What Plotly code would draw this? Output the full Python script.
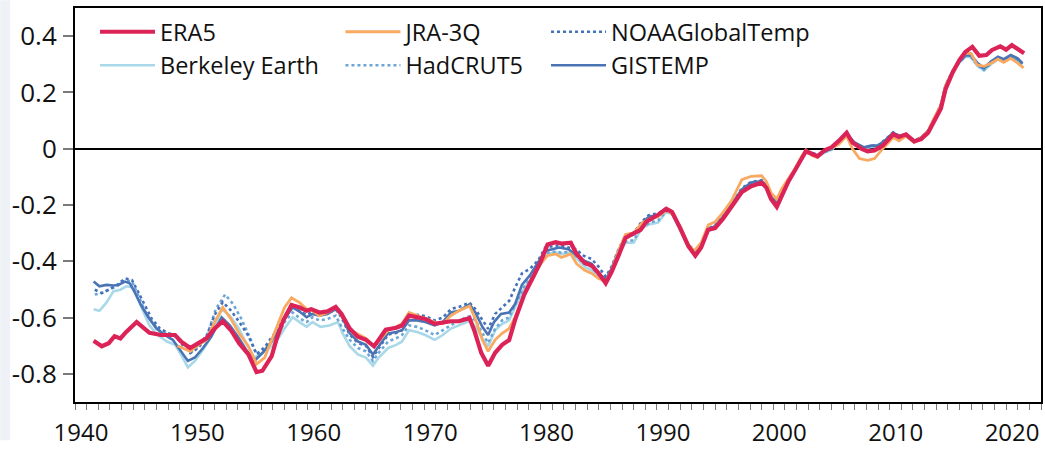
import plotly.graph_objects as go

# ---------------- data (12-month running means, °C anomaly) ----------------
era5_year = [1941.6, 1942.3, 1942.9, 1943.4, 1943.9, 1944.4, 1945.3, 1945.9, 1946.4, 1947.4, 1948.6, 1949.1,
             1949.9, 1950.6, 1951.3, 1952.0, 1952.7, 1953.4, 1954.1, 1954.9, 1955.6, 1956.1, 1956.9, 1957.3,
             1957.9, 1958.6, 1959.3, 1959.9, 1960.3, 1961.0, 1961.7, 1962.4, 1962.9, 1963.6, 1964.3, 1965.0,
             1965.7, 1966.1, 1966.7, 1967.6, 1968.1, 1968.7, 1969.4, 1970.1, 1970.9, 1971.6, 1972.3, 1973.0,
             1973.9, 1974.3, 1974.9, 1975.5, 1976.1, 1976.7, 1977.3, 1977.8, 1978.6, 1979.3, 1980.0, 1980.6,
             1981.3, 1981.8, 1982.6, 1983.1, 1983.8, 1984.4, 1985.0, 1985.6, 1986.1, 1986.7, 1987.3, 1987.8,
             1988.6, 1989.1, 1990.1, 1990.8, 1991.3, 1992.0, 1992.7, 1993.3, 1993.8, 1994.4, 1995.0, 1995.7,
             1996.4, 1997.3, 1998.1, 1999.0, 1999.4, 1999.8, 2000.3, 2000.7, 2001.3, 2001.8, 2002.4, 2002.8,
             2003.3, 2003.8, 2004.4, 2005.0, 2005.6, 2006.3, 2006.8, 2007.6, 2008.1, 2008.7, 2009.4, 2010.3,
             2010.8, 2011.4, 2012.1, 2012.7, 2013.3, 2013.8, 2014.4, 2014.8, 2015.4, 2016.0, 2016.5, 2017.1,
             2017.7, 2018.3, 2018.8, 2019.5, 2020.0, 2020.5, 2021.1, 2021.55]
era5_val = [-0.682, -0.702, -0.691, -0.666, -0.674, -0.651, -0.616, -0.639, -0.654, -0.662, -0.662, -0.685,
            -0.708, -0.691, -0.674, -0.639, -0.613, -0.645, -0.691, -0.731, -0.794, -0.789, -0.737, -0.679,
            -0.610, -0.555, -0.564, -0.576, -0.570, -0.582, -0.578, -0.562, -0.587, -0.639, -0.668, -0.679,
            -0.702, -0.679, -0.643, -0.636, -0.628, -0.593, -0.599, -0.605, -0.622, -0.616, -0.613, -0.613,
            -0.602, -0.645, -0.725, -0.771, -0.725, -0.697, -0.680, -0.610, -0.518, -0.461, -0.403, -0.340,
            -0.332, -0.337, -0.334, -0.374, -0.406, -0.415, -0.443, -0.478, -0.438, -0.380, -0.317, -0.305,
            -0.288, -0.259, -0.235, -0.213, -0.225, -0.282, -0.346, -0.380, -0.351, -0.288, -0.282, -0.248,
            -0.207, -0.154, -0.133, -0.121, -0.138, -0.179, -0.207, -0.167, -0.116, -0.081, -0.035, -0.009,
            -0.018, -0.027, -0.006, 0.005, 0.027, 0.057, 0.022, -0.001, -0.009, -0.006, 0.011, 0.051,
            0.042, 0.051, 0.026, 0.034, 0.057, 0.097, 0.143, 0.212, 0.270, 0.316, 0.344, 0.362,
            0.330, 0.333, 0.351, 0.364, 0.352, 0.368, 0.352, 0.339]

jra3q_year = [1948.8, 1949.4, 1949.9, 1950.6, 1951.3, 1952.0, 1952.7, 1953.4, 1954.1, 1954.9, 1955.6, 1956.3,
              1956.8, 1957.4, 1958.0, 1958.6, 1959.3, 1959.9, 1960.4, 1961.0, 1961.7, 1962.4, 1963.0, 1963.7,
              1964.4, 1965.0, 1965.7, 1966.3, 1966.9, 1967.6, 1968.1, 1968.7, 1969.4, 1970.1, 1970.9, 1971.6,
              1972.3, 1973.0, 1973.9, 1974.4, 1975.0, 1975.5, 1976.1, 1976.7, 1977.3, 1977.8, 1978.6, 1979.3,
              1980.0, 1980.6, 1981.3, 1981.8, 1982.6, 1983.1, 1983.8, 1984.4, 1985.0, 1985.6, 1986.1, 1986.7,
              1987.3, 1988.0, 1988.7, 1989.4, 1990.1, 1990.8, 1991.3, 1992.0, 1992.7, 1993.2, 1993.8, 1994.4,
              1995.0, 1995.7, 1996.4, 1997.3, 1998.1, 1999.0, 1999.4, 1999.8, 2000.3, 2000.7, 2001.3, 2001.8,
              2002.4, 2002.8, 2003.3, 2003.8, 2004.4, 2005.0, 2005.6, 2006.3, 2006.8, 2007.4, 2008.1, 2008.7,
              2009.4, 2010.3, 2010.8, 2011.4, 2012.1, 2012.7, 2013.3, 2013.8, 2014.4, 2014.8, 2015.4, 2016.0,
              2016.5, 2017.0, 2017.5, 2018.1, 2018.7, 2019.3, 2019.8, 2020.4, 2021.0, 2021.5]
jra3q_val = [-0.700, -0.712, -0.720, -0.697, -0.680, -0.616, -0.564, -0.605, -0.656, -0.702, -0.765, -0.742,
             -0.690, -0.622, -0.564, -0.530, -0.547, -0.570, -0.576, -0.593, -0.582, -0.564, -0.599, -0.645,
             -0.662, -0.674, -0.702, -0.674, -0.645, -0.633, -0.622, -0.582, -0.593, -0.605, -0.616, -0.622,
             -0.593, -0.576, -0.559, -0.605, -0.679, -0.720, -0.679, -0.656, -0.639, -0.599, -0.518, -0.461,
             -0.409, -0.380, -0.374, -0.386, -0.374, -0.409, -0.432, -0.443, -0.461, -0.472, -0.432, -0.363,
             -0.305, -0.299, -0.265, -0.248, -0.242, -0.219, -0.230, -0.277, -0.340, -0.363, -0.334, -0.271,
             -0.260, -0.225, -0.185, -0.110, -0.098, -0.096, -0.116, -0.156, -0.179, -0.144, -0.104, -0.075,
             -0.029, -0.004, -0.024, -0.032, -0.006, 0.003, 0.015, 0.045, 0.000, -0.035, -0.041, -0.035,
             0.000, 0.040, 0.028, 0.045, 0.022, 0.040, 0.063, 0.108, 0.155, 0.224, 0.275, 0.316,
             0.339, 0.339, 0.298, 0.293, 0.304, 0.318, 0.307, 0.321, 0.304, 0.287]

noaa_year = [1941.7, 1942.3, 1942.9, 1943.6, 1944.3, 1944.9, 1945.4, 1946.0, 1946.6, 1947.3, 1948.0, 1948.6,
             1949.1, 1949.9, 1950.6, 1951.3, 1952.0, 1952.7, 1953.4, 1954.1, 1954.9, 1955.6, 1956.3, 1956.9,
             1957.4, 1958.1, 1958.7, 1959.4, 1959.9, 1960.4, 1961.0, 1961.7, 1962.4, 1962.9, 1963.6, 1964.3,
             1965.0, 1965.6, 1966.1, 1966.9, 1967.6, 1968.1, 1968.7, 1969.4, 1970.1, 1970.9, 1971.6, 1972.3,
             1973.0, 1973.9, 1974.4, 1975.0, 1975.5, 1976.1, 1976.7, 1977.3, 1977.8, 1978.4, 1979.1, 1979.8,
             1980.4, 1981.0, 1981.6, 1982.4, 1983.0, 1983.7, 1984.4, 1985.0, 1985.6, 1986.1, 1986.7, 1987.3,
             1988.0, 1988.7, 1989.3, 1990.1, 1990.8, 1991.3, 1992.0, 1992.7, 1993.3, 1993.8, 1994.4, 1995.0,
             1995.7, 1996.4, 1997.3, 1998.1, 1999.0, 1999.4, 1999.8, 2000.3, 2000.7, 2001.3, 2001.8, 2002.4,
             2002.8, 2003.3, 2003.8, 2004.4, 2005.0, 2005.55, 2006.3, 2006.98, 2007.8, 2008.4, 2009.0, 2009.55,
             2010.3, 2010.8, 2011.4, 2012.1, 2012.7, 2013.3, 2013.8, 2014.4, 2014.8, 2015.4, 2016.0, 2016.55,
             2016.98, 2017.55, 2018.1, 2018.7, 2019.3, 2019.8, 2020.4, 2021.0, 2021.4]
noaa_val = [-0.501, -0.513, -0.501, -0.484, -0.461, -0.467, -0.507, -0.558, -0.605, -0.639, -0.656, -0.662,
            -0.691, -0.726, -0.708, -0.668, -0.590, -0.545, -0.575, -0.615, -0.665, -0.730, -0.705, -0.670,
            -0.645, -0.590, -0.560, -0.580, -0.590, -0.580, -0.590, -0.585, -0.570, -0.600, -0.660, -0.690,
            -0.700, -0.740, -0.710, -0.660, -0.655, -0.645, -0.600, -0.590, -0.595, -0.610, -0.600, -0.570,
            -0.562, -0.547, -0.570, -0.610, -0.640, -0.587, -0.564, -0.541, -0.495, -0.443, -0.426, -0.397,
            -0.351, -0.346, -0.343, -0.351, -0.357, -0.380, -0.392, -0.420, -0.455, -0.420, -0.357, -0.311,
            -0.299, -0.259, -0.236, -0.230, -0.212, -0.222, -0.280, -0.340, -0.365, -0.342, -0.284, -0.272,
            -0.238, -0.200, -0.140, -0.118, -0.112, -0.128, -0.168, -0.192, -0.158, -0.108, -0.078, -0.033,
            -0.008, -0.014, -0.022, -0.008, 0.002, 0.024, 0.052, 0.020, 0.004, 0.010, 0.012, 0.030,
            0.058, 0.046, 0.050, 0.027, 0.041, 0.064, 0.104, 0.158, 0.226, 0.277, 0.312, 0.334,
            0.330, 0.300, 0.284, 0.307, 0.324, 0.316, 0.330, 0.318, 0.302]

berkeley_year = [1941.6, 1942.1, 1942.7, 1943.3, 1943.9, 1944.4, 1944.9, 1945.3, 1945.9, 1946.4, 1947.1, 1947.9,
                 1948.6, 1949.1, 1949.7, 1950.3, 1951.0, 1951.7, 1952.6, 1953.3, 1954.0, 1954.7, 1955.4, 1956.1,
                 1956.8, 1957.4, 1958.1, 1958.7, 1959.3, 1959.9, 1960.4, 1961.1, 1961.85, 1962.6, 1963.0, 1963.6,
                 1964.3, 1965.0, 1965.6, 1966.1, 1966.9, 1967.6, 1968.1, 1968.7, 1969.4, 1970.1, 1970.9, 1971.6,
                 1972.3, 1973.0, 1973.9, 1974.4, 1975.0, 1975.5, 1976.1, 1976.7, 1977.3, 1977.8, 1978.6, 1979.3,
                 1980.0, 1980.6, 1981.3, 1981.8, 1982.6, 1983.1, 1983.8, 1984.4, 1985.0, 1985.6, 1986.1, 1986.7,
                 1987.3, 1988.0, 1988.7, 1989.4, 1990.1, 1990.8, 1991.3, 1992.0, 1992.7, 1993.3, 1993.8, 1994.4,
                 1995.0, 1995.7, 1996.4, 1997.3, 1998.1, 1999.0, 1999.4, 1999.8, 2000.3, 2000.7, 2001.3, 2001.8,
                 2002.4, 2002.8, 2003.3, 2003.8, 2004.4, 2005.0, 2005.55, 2006.3, 2006.98, 2007.8, 2008.4, 2009.0,
                 2009.55, 2010.3, 2010.8, 2011.4, 2012.1, 2012.7, 2013.3, 2013.8, 2014.4, 2014.8, 2015.4, 2016.0,
                 2016.55, 2016.98, 2017.55, 2018.1, 2018.7, 2019.3, 2019.8, 2020.4, 2021.0, 2021.4]
berkeley_val = [-0.570, -0.576, -0.547, -0.507, -0.501, -0.489, -0.492, -0.524, -0.582, -0.628, -0.662, -0.685,
                -0.697, -0.731, -0.777, -0.754, -0.714, -0.668, -0.570, -0.593, -0.633, -0.691, -0.742, -0.726,
                -0.705, -0.679, -0.633, -0.599, -0.616, -0.633, -0.616, -0.633, -0.628, -0.616, -0.656, -0.702,
                -0.731, -0.742, -0.771, -0.742, -0.708, -0.697, -0.685, -0.645, -0.651, -0.662, -0.679, -0.662,
                -0.639, -0.628, -0.612, -0.633, -0.674, -0.702, -0.645, -0.622, -0.610, -0.564, -0.495, -0.455,
                -0.409, -0.374, -0.368, -0.374, -0.368, -0.391, -0.420, -0.432, -0.455, -0.472, -0.438, -0.374,
                -0.334, -0.334, -0.282, -0.268, -0.262, -0.225, -0.232, -0.290, -0.350, -0.374, -0.350, -0.292,
                -0.284, -0.250, -0.210, -0.152, -0.128, -0.122, -0.138, -0.176, -0.200, -0.166, -0.116, -0.085,
                -0.040, -0.014, -0.020, -0.030, -0.014, -0.004, 0.018, 0.046, 0.016, 0.000, 0.006, 0.008,
                0.024, 0.052, 0.042, 0.046, 0.022, 0.036, 0.058, 0.098, 0.150, 0.218, 0.270, 0.306,
                0.328, 0.324, 0.294, 0.278, 0.300, 0.318, 0.310, 0.324, 0.312, 0.298]

hadcrut5_year = [1941.7, 1942.3, 1942.9, 1943.6, 1944.3, 1944.9, 1945.4, 1946.0, 1946.7, 1947.4, 1948.3, 1949.0,
                 1949.9, 1950.6, 1951.4, 1952.1, 1952.9, 1953.6, 1954.3, 1955.0, 1955.6, 1956.3, 1956.8, 1957.4,
                 1958.1, 1958.7, 1959.4, 1959.9, 1960.4, 1961.0, 1961.7, 1962.4, 1962.9, 1963.6, 1964.3, 1965.0,
                 1965.6, 1966.1, 1966.9, 1967.6, 1968.1, 1968.7, 1969.4, 1970.1, 1970.9, 1971.6, 1972.3, 1973.0,
                 1973.9, 1974.4, 1975.0, 1975.5, 1976.1, 1976.7, 1977.3, 1977.8, 1978.6, 1979.3, 1980.0, 1980.6,
                 1981.3, 1981.8, 1982.6, 1983.1, 1983.8, 1984.4, 1985.0, 1985.6, 1986.1, 1986.7, 1987.3, 1988.0,
                 1988.7, 1989.4, 1990.1, 1990.8, 1991.3, 1992.0, 1992.7, 1993.3, 1993.8, 1994.4, 1995.0, 1995.7,
                 1996.4, 1997.3, 1998.1, 1999.0, 1999.4, 1999.8, 2000.3, 2000.7, 2001.3, 2001.8, 2002.4, 2002.8,
                 2003.3, 2003.8, 2004.4, 2005.0, 2005.55, 2006.3, 2006.98, 2007.8, 2008.4, 2009.0, 2009.55, 2010.3,
                 2010.8, 2011.4, 2012.1, 2012.7, 2013.3, 2013.8, 2014.4, 2014.8, 2015.4, 2016.0, 2016.55, 2016.98,
                 2017.55, 2018.1, 2018.7, 2019.3, 2019.8, 2020.4, 2021.0, 2021.4]
hadcrut5_val = [-0.518, -0.513, -0.501, -0.489, -0.467, -0.472, -0.518, -0.576, -0.622, -0.651, -0.659, -0.674,
                -0.726, -0.702, -0.656, -0.570, -0.518, -0.553, -0.605, -0.668, -0.731, -0.714, -0.690, -0.662,
                -0.610, -0.582, -0.605, -0.616, -0.599, -0.610, -0.605, -0.593, -0.633, -0.679, -0.708, -0.720,
                -0.754, -0.725, -0.685, -0.674, -0.662, -0.628, -0.633, -0.645, -0.662, -0.645, -0.628, -0.610,
                -0.595, -0.610, -0.655, -0.690, -0.640, -0.610, -0.600, -0.555, -0.490, -0.450, -0.405, -0.370,
                -0.365, -0.370, -0.365, -0.385, -0.410, -0.420, -0.450, -0.470, -0.435, -0.370, -0.330, -0.325,
                -0.280, -0.262, -0.255, -0.222, -0.230, -0.287, -0.348, -0.372, -0.348, -0.290, -0.280, -0.246,
                -0.206, -0.150, -0.125, -0.118, -0.134, -0.174, -0.198, -0.164, -0.114, -0.082, -0.036, -0.012,
                -0.018, -0.028, -0.012, -0.002, 0.020, 0.048, 0.018, 0.002, 0.008, 0.010, 0.026, 0.054,
                0.044, 0.048, 0.025, 0.038, 0.060, 0.100, 0.152, 0.220, 0.272, 0.308, 0.330, 0.326,
                0.296, 0.280, 0.302, 0.320, 0.312, 0.326, 0.314, 0.300]

gistemp_year = [1941.6, 1942.1, 1942.7, 1943.3, 1943.7, 1944.3, 1944.7, 1945.1, 1945.7, 1946.3, 1947.0, 1947.7,
                1948.4, 1949.1, 1949.7, 1950.3, 1951.0, 1951.7, 1952.6, 1953.3, 1954.0, 1954.7, 1955.4, 1956.1,
                1956.8, 1957.4, 1958.1, 1958.7, 1959.4, 1959.9, 1960.4, 1961.0, 1961.7, 1962.4, 1962.9, 1963.6,
                1964.3, 1965.0, 1965.6, 1966.1, 1966.9, 1967.6, 1968.1, 1968.7, 1969.4, 1970.1, 1970.9, 1971.6,
                1972.3, 1973.0, 1973.9, 1974.4, 1975.0, 1975.5, 1976.0, 1976.6, 1977.3, 1977.8, 1978.4, 1979.1,
                1979.8, 1980.4, 1981.0, 1981.6, 1982.4, 1983.0, 1983.7, 1984.4, 1985.0, 1985.6, 1986.1, 1986.7,
                1987.3, 1988.0, 1988.7, 1989.3, 1990.1, 1990.8, 1991.3, 1992.0, 1992.7, 1993.3, 1993.8, 1994.4,
                1995.0, 1995.7, 1996.4, 1997.3, 1998.1, 1999.0, 1999.4, 1999.8, 2000.3, 2000.7, 2001.3, 2001.8,
                2002.4, 2002.8, 2003.3, 2003.8, 2004.4, 2005.0, 2005.55, 2006.3, 2006.98, 2007.8, 2008.4, 2009.0,
                2009.55, 2010.3, 2010.8, 2011.4, 2012.1, 2012.7, 2013.3, 2013.8, 2014.4, 2014.8, 2015.4, 2016.0,
                2016.55, 2016.98, 2017.55, 2018.1, 2018.7, 2019.3, 2019.8, 2020.4, 2021.0, 2021.4]
gistemp_val = [-0.472, -0.489, -0.484, -0.486, -0.484, -0.472, -0.478, -0.507, -0.558, -0.599, -0.639, -0.662,
               -0.679, -0.720, -0.754, -0.742, -0.708, -0.668, -0.599, -0.628, -0.668, -0.714, -0.754, -0.726,
               -0.690, -0.651, -0.599, -0.564, -0.582, -0.599, -0.587, -0.593, -0.587, -0.570, -0.593, -0.656,
               -0.685, -0.697, -0.731, -0.702, -0.656, -0.651, -0.645, -0.610, -0.610, -0.616, -0.628, -0.616,
               -0.582, -0.576, -0.553, -0.582, -0.633, -0.662, -0.616, -0.587, -0.582, -0.553, -0.484, -0.449,
               -0.403, -0.363, -0.357, -0.351, -0.357, -0.374, -0.397, -0.409, -0.443, -0.466, -0.426, -0.363,
               -0.317, -0.305, -0.265, -0.242, -0.236, -0.215, -0.225, -0.285, -0.345, -0.370, -0.345, -0.285,
               -0.275, -0.240, -0.200, -0.145, -0.120, -0.115, -0.130, -0.170, -0.195, -0.160, -0.110, -0.080,
               -0.035, -0.010, -0.015, -0.025, -0.010, 0.000, 0.022, 0.051, 0.022, 0.005, 0.011, 0.011,
               0.028, 0.057, 0.045, 0.051, 0.028, 0.040, 0.063, 0.103, 0.155, 0.224, 0.275, 0.310,
               0.333, 0.333, 0.304, 0.287, 0.310, 0.327, 0.318, 0.333, 0.321, 0.304]

x_tick_years = list(range(1940, 2024))
x_label_years = [1940, 1950, 1960, 1970, 1980, 1990, 2000, 2010, 2020]
y_tick_vals = [-0.8, -0.6, -0.4, -0.2, 0, 0.2, 0.4]
y_tick_text = ['-0.8', '-0.6', '-0.4', '-0.2', '0', '0.2', '0.4']

# ---------------- styling ----------------
FONT = "Open Sans"
C_ERA5 = "#DC2358"
C_JRA = "#F9AA60"
C_NOAA = "#4472BA"
C_BERK = "#A9D9E8"
C_HAD = "#6CA6D6"
C_GIS = "#4A74B3"

fig = go.Figure()

series = [
    # name, x, y, color, width, dash, legend, rank
    ("Berkeley Earth", berkeley_year, berkeley_val, C_BERK, 2.6, "solid", "legend", 2),
    ("HadCRUT5", hadcrut5_year, hadcrut5_val, C_HAD, 2.6, "dot", "legend2", 2),
    ("NOAAGlobalTemp", noaa_year, noaa_val, C_NOAA, 2.6, "dot", "legend3", 1),
    ("GISTEMP", gistemp_year, gistemp_val, C_GIS, 2.6, "solid", "legend3", 2),
    ("JRA-3Q", jra3q_year, jra3q_val, C_JRA, 2.8, "solid", "legend2", 1),
    ("ERA5", era5_year, era5_val, C_ERA5, 4.2, "solid", "legend", 1),
]
for name, xs, ys, col, w, dash, lg, rank in series:
    fig.add_trace(go.Scatter(
        x=xs, y=ys, mode="lines", name=name,
        line=dict(color=col, width=w, dash=dash),
        legend=lg, legendrank=rank, hoverinfo="skip",
    ))

x_tick_text = [str(y) if y in x_label_years else "" for y in x_tick_years]

legend_common = dict(
    font=dict(family=FONT, size=23.5, color="#111111"),
    bgcolor="rgba(0,0,0,0)", borderwidth=0,
    xanchor="left", yanchor="top", orientation="v",
    itemwidth=55, tracegroupgap=0,
)

fig.update_layout(
    width=1045, height=450,
    margin=dict(l=75, r=2, t=8, b=39),
    paper_bgcolor="white", plot_bgcolor="white",
    font=dict(family=FONT, size=24, color="#111111"),
    showlegend=True,
    legend=dict(x=0.0207, y=0.995, **legend_common),
    legend2=dict(x=0.2748, y=0.995, **legend_common),
    legend3=dict(x=0.4876, y=0.995, **legend_common),
    xaxis=dict(
        range=[1940, 2023], tickmode="array", tickvals=x_tick_years, ticktext=x_tick_text,
        ticks="outside", ticklen=6, tickwidth=1.3, tickcolor="#7a7a7a",
        ticklabelshift=6, ticklabelstandoff=2,
        showline=True, linecolor="black", linewidth=2, mirror=True,
        showgrid=False, zeroline=False,
        tickfont=dict(family=FONT, size=24, color="#111111"),
    ),
    yaxis=dict(
        range=[-0.9, 0.5], tickmode="array", tickvals=y_tick_vals, ticktext=y_tick_text,
        ticks="outside", ticklen=10, tickwidth=1.5, tickcolor="#7a7a7a",
        ticklabelstandoff=1,
        showline=True, linecolor="black", linewidth=2, mirror=True,
        showgrid=False, zeroline=True, zerolinecolor="black", zerolinewidth=1.6,
        tickfont=dict(family=FONT, size=26, color="#111111"),
    ),
    shapes=[dict(type="rect", xref="paper", yref="paper", x0=-75/968, x1=-65/968, y0=-39/403, y1=1 + 8/403,
                 fillcolor="#EEF2F6", line=dict(width=0), layer="below")],
)

fig.write_html("out.html")
